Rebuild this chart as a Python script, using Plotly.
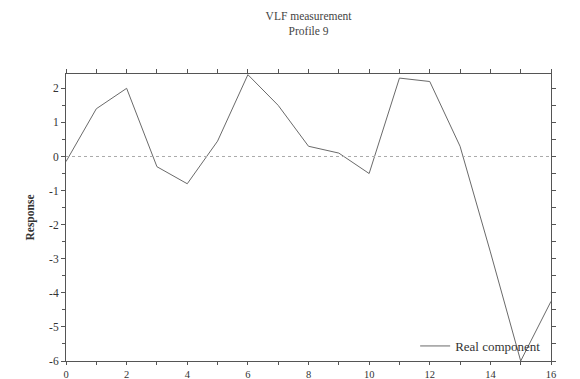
import plotly.graph_objects as go

x_vals = list(range(0, 17))
real_component = [-0.15, 1.4, 2.0, -0.3, -0.8, 0.45, 2.4, 1.5, 0.3, 0.1, -0.5,
                  2.3, 2.2, 0.3, -2.8, -6.0, -4.25]
x_tick_vals = [0, 2, 4, 6, 8, 10, 12, 14, 16]
y_tick_vals = [-6, -5, -4, -3, -2, -1, 0, 1, 2]

x_range = [0, 16]
y_range = [-6, 2.42]
font_family = "Liberation Serif, Times New Roman, serif"
axis_color = "#555555"

fig = go.Figure()
fig.add_trace(go.Scatter(x=x_vals, y=real_component, mode="lines",
                         name="Real component",
                         line=dict(color="#6a6a6a", width=1)))
# helper trace for top/right axes
fig.add_trace(go.Scatter(x=x_range, y=y_range, mode="markers", xaxis="x2", yaxis="y2",
                         marker=dict(opacity=0), showlegend=False, hoverinfo="skip"))

fig.add_shape(type="line", xref="x", yref="y", x0=x_range[0], x1=x_range[1], y0=0, y1=0,
              line=dict(color="#aaaaaa", width=1, dash="dot"))

fig.update_layout(
    width=580, height=379,
    margin=dict(l=66, r=29, t=74, b=18, autoexpand=False),
    paper_bgcolor="white", plot_bgcolor="white",
    font=dict(family=font_family, size=11, color="#333333"),
    title=dict(text="VLF measurement<br>Profile 9", x=0.532, xanchor="center",
               y=0.948, yanchor="top", font=dict(size=11.5, family=font_family, color="#444444")),
    xaxis=dict(range=x_range, tickmode="array", tickvals=x_tick_vals,
               ticktext=[str(v) for v in x_tick_vals],
               showgrid=False, zeroline=False, automargin=False,
               showline=True, linecolor=axis_color, linewidth=1,
               ticks="outside", ticklen=3, tickcolor=axis_color,
               minor=dict(dtick=1, tick0=0, ticks="outside", ticklen=3, tickcolor=axis_color),
               tickfont=dict(size=10.5, family=font_family)),
    yaxis=dict(range=y_range, tickmode="array", tickvals=y_tick_vals,
               ticktext=[str(v) for v in y_tick_vals],
               showgrid=False, zeroline=False, automargin=False,
               showline=True, linecolor=axis_color, linewidth=1,
               ticks="outside", ticklen=4, tickcolor=axis_color,
               minor=dict(dtick=0.5, tick0=0, ticks="outside", ticklen=3, tickcolor=axis_color),
               tickfont=dict(size=11.5, family=font_family),
               title=dict(text="<b>Response</b>", standoff=12,
                          font=dict(size=11.5, family=font_family))),
    xaxis2=dict(range=x_range, overlaying="x", side="top", dtick=1, tick0=0,
                showgrid=False, zeroline=False, showticklabels=False, automargin=False,
                showline=True, linecolor=axis_color, linewidth=1,
                ticks="outside", ticklen=4, tickcolor=axis_color),
    yaxis2=dict(range=y_range, overlaying="y", side="right", dtick=0.5, tick0=0,
                showgrid=False, zeroline=False, showticklabels=False, automargin=False,
                showline=True, linecolor=axis_color, linewidth=1,
                ticks="outside", ticklen=4, tickcolor=axis_color),
    legend=dict(x=0.99, y=0.0, xanchor="right", yanchor="bottom",
                bgcolor="rgba(0,0,0,0)", font=dict(size=13, family=font_family)),
    showlegend=True,
)

fig.write_html("out.html")
